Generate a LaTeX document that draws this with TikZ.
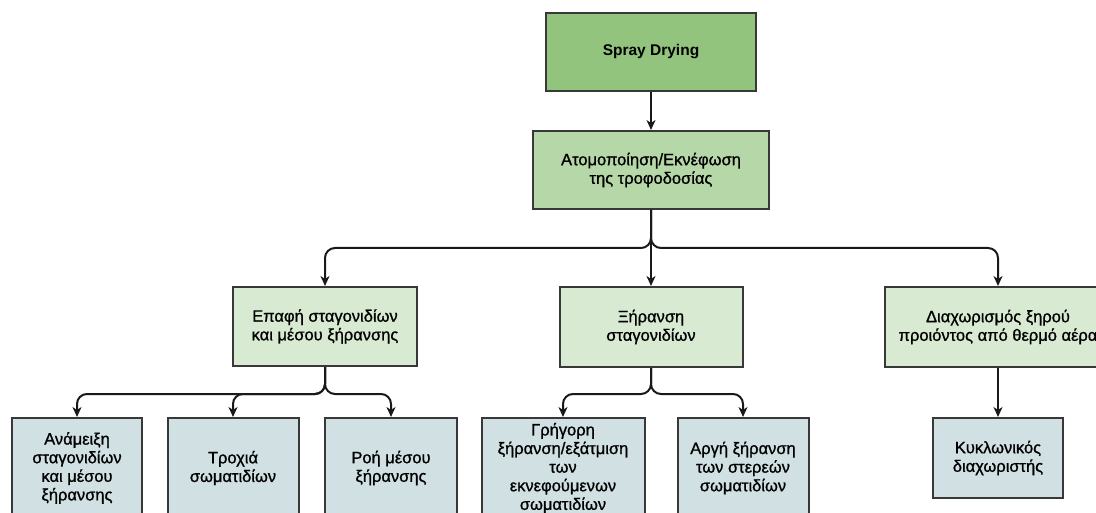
\documentclass[tikz,border=0pt]{standalone}
\usepackage{fontspec}
\setmainfont{Liberation Sans}
\newfontfamily\boxfont[FakeBold=1]{Liberation Sans}
\usetikzlibrary{arrows.meta}
\definecolor{sprayGreen}{HTML}{93C47D}
\definecolor{stepGreen}{HTML}{B6D7A8}
\definecolor{stageGreen}{HTML}{D9EAD3}
\definecolor{leafBlue}{HTML}{D0E0E3}
\definecolor{boxLine}{HTML}{383838}
\begin{document}
\begin{tikzpicture}
	[x=1pt,y=-1pt,
	 proc box/.style={draw=boxLine,line width=2pt,fill=#1,align=center,inner sep=0pt,
		font=\boxfont\fontsize{16.5}{18.6}\selectfont},
	 proc box/.default=stageGreen,
	 flow/.style={draw=black!90,line width=2pt,-{Stealth[length=10pt,width=9pt,inset=3pt]}},
	 split/.style={flow,rounded corners=10pt}]
	\useasboundingbox (0,0) rectangle (1096,513);
	% top of the tree
	\node[proc box=sprayGreen,minimum width=210pt,minimum height=78pt,
		font=\bfseries\fontsize{15.5}{18}\selectfont] (spray) at (651,52) {Spray Drying};
	\node[proc box=stepGreen,minimum width=236pt,minimum height=78pt] (atom) at (651,170)
		{Ατομοποίηση/Εκνέφωση\\της τροφοδοσίας};
	% stages
	\node[proc box,minimum width=184pt,minimum height=79pt] (epafi) at (325,326.5)
		{Επαφή σταγονιδίων\\και μέσου ξήρανσης};
	\node[proc box,minimum width=183pt,minimum height=80pt] (xiransi) at (651,327)
		{Ξήρανση\\σταγονιδίων};
	\node[proc box,minimum width=226pt,minimum height=80pt] (diax) at (998,327)
		{Διαχωρισμός ξηρού\\προιόντος από θερμό αέρα};
	% leaves
	\node[proc box=leafBlue,minimum width=130pt,minimum height=100pt] (anam) at (77,468)
		{Ανάμειξη\\σταγονιδίων\\και μέσου\\ξήρανσης};
	\node[proc box=leafBlue,minimum width=131pt,minimum height=100pt] (troxia) at (233,468)
		{Τροχιά\\σωματιδίων};
	\node[proc box=leafBlue,minimum width=132pt,minimum height=100pt] (roi) at (391,468)
		{Ροή μέσου\\ξήρανσης};
	\node[proc box=leafBlue,minimum width=163pt,minimum height=100pt] (grigori) at (563,468)
		{Γρήγορη\\ξήρανση/εξάτμιση\\των\\εκνεφούμενων\\σωματιδίων};
	\node[proc box=leafBlue,minimum width=131pt,minimum height=100pt] (argi) at (743,468)
		{Αργή ξήρανση\\των στερεών\\σωματιδίων};
	\node[proc box=leafBlue,minimum width=130pt,minimum height=80pt] (kyklon) at (998,458)
		{Κυκλωνικός\\διαχωριστής};
	% connectors
	\draw[flow] (spray.south) -- (atom.north);
	\draw[split] (atom.south) -- ++(0,38) -| (epafi.north);
	\draw[flow] (atom.south) -- (xiransi.north);
	\draw[split] (atom.south) -- ++(0,38) -| (diax.north);
	\draw[split] (epafi.south) -- ++(0,27) -| (anam.north);
	\draw[split] (epafi.south) -- ++(0,27) -| (troxia.north);
	\draw[split] (epafi.south) -- ++(0,27) -| (roi.north);
	\draw[split] (xiransi.south) -- ++(0,26) -| (grigori.north);
	\draw[split] (xiransi.south) -- ++(0,26) -| (argi.north);
	\draw[flow] (diax.south) -- (kyklon.north);
\end{tikzpicture}
\end{document}
